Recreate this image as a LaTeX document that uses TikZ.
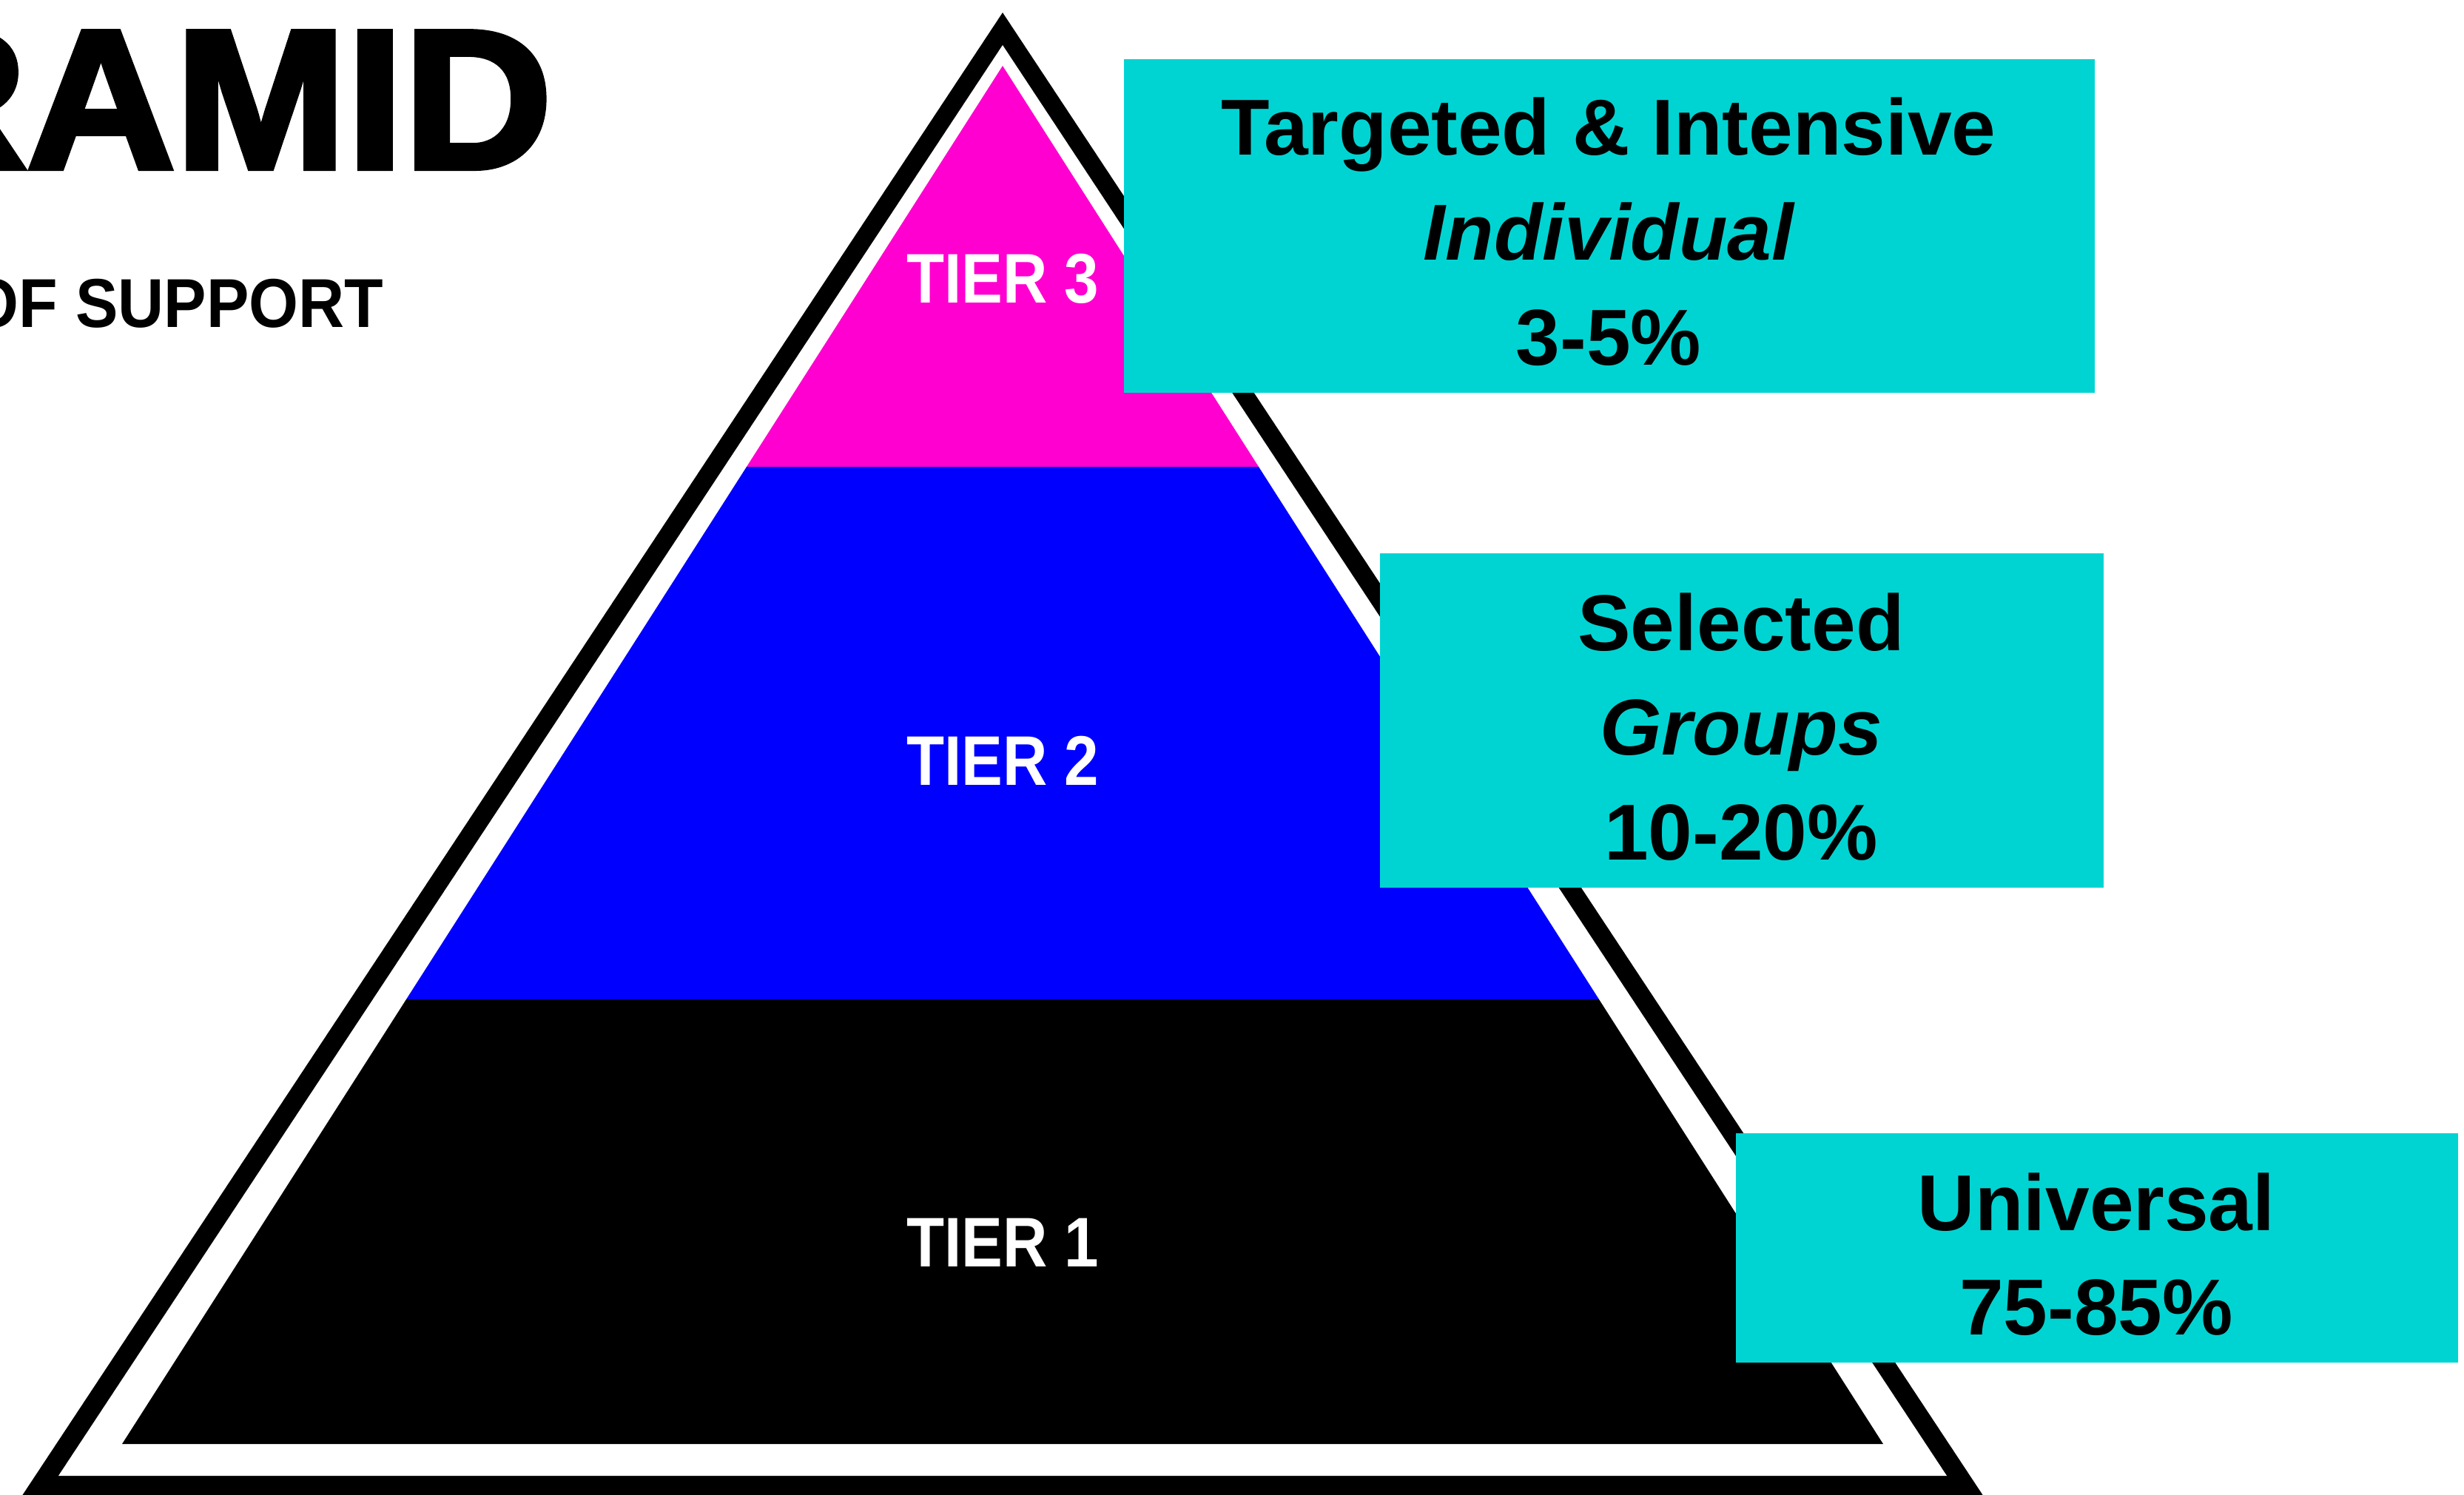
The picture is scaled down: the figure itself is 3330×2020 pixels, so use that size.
\documentclass[tikz,border=0pt]{standalone}
\usepackage{fontspec}
\setmainfont{Liberation Sans}
\newfontfamily\titlefont{Liberation Sans Bold}[FakeBold=3,FakeStretch=1.04]
\newfontfamily\subfont{Liberation Sans Bold}[FakeStretch=0.92]
\newfontfamily\tierfont{Liberation Sans Bold}[FakeStretch=0.88]
\definecolor{cyanbox}{RGB}{0,212,211}
\definecolor{tierpink}{RGB}{255,0,208}
\definecolor{tierblue}{RGB}{0,0,255}
\begin{document}
\begin{tikzpicture}[x=0.01cm,y=-0.01cm,
  cbox/.style={fill=cyanbox, draw=none, inner sep=0pt, anchor=north west},
  boxtxt/.style={anchor=base, inner sep=0pt, text=black, font=\fontsize{30.5}{36}\selectfont\bfseries},
  tiertxt/.style={anchor=base, inner sep=0pt, text=white, font=\tierfont\fontsize{27}{32}\selectfont},
  headtxt/.style={anchor=base east, inner sep=0pt, text=black}]
\useasboundingbox (0,0) rectangle (3330,2020);
% pyramid frame
\fill[black] (1355,17) -- (2745,2120) -- (-35,2120) -- cycle;
\fill[white] (1355,61) -- (2631,1995) -- (79,1995) -- cycle;
% tiers
\fill[tierpink] (1355,89) -- (1701,631) -- (1009,631) -- cycle;
\fill[tierblue] (1009,631) -- (1701,631) -- (2161,1351) -- (549,1351) -- cycle;
\fill[black] (549,1351) -- (2161,1351) -- (2545,1952) -- (165,1952) -- cycle;
% tier labels
\node[tiertxt] (tier3) at (1355,409) {TIER 3};
\node[tiertxt] (tier2) at (1355,1061) {TIER 2};
\node[tiertxt] (tier1) at (1355,1712) {TIER 1};
% heading
\node[headtxt, font=\titlefont\fontsize{76}{80}\selectfont] (title) at (747,227) {RAMID};
\node[headtxt, font=\subfont\fontsize{26.6}{30}\selectfont] (subtitle) at (519,442) {OF SUPPORT};
% boxes
\node[cbox, minimum width=13.11cm, minimum height=4.51cm] (box1) at (1518,79) {};
\node[cbox, minimum width=9.78cm, minimum height=4.52cm] (box2) at (1864,747) {};
\node[cbox, minimum width=9.76cm, minimum height=3.10cm] (box3) at (2345,1531) {};
\node[boxtxt] (b1a) at (2174,209) {Targeted \& Intensive};
\node[boxtxt] (b1b) at (2174,351) {\itshape Individual};
\node[boxtxt] (b1c) at (2174,493) {3-5\%};
\node[boxtxt] (b2a) at (2353,879) {Selected};
\node[boxtxt] (b2b) at (2353,1020) {\itshape Groups};
\node[boxtxt] (b2c) at (2353,1162) {10-20\%};
\node[boxtxt] (b3a) at (2833,1663) {Universal};
\node[boxtxt] (b3b) at (2833,1804) {75-85\%};
\end{tikzpicture}
\end{document}
